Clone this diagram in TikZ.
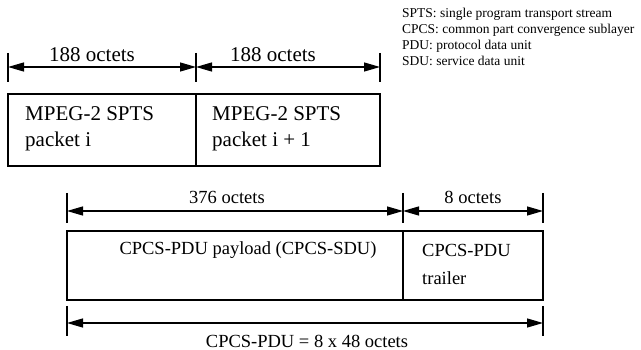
\documentclass[tikz,border=0pt]{standalone}
\usepackage{fontspec}
\setmainfont{Liberation Serif}
\usetikzlibrary{arrows.meta}
\begin{document}
\begin{tikzpicture}[x=1pt,y=-1pt,
  dim/.style={line width=1.3pt,{Triangle[length=16pt,width=9pt]}-{Triangle[length=16pt,width=9pt]}},
  tick/.style={line width=1.2pt},
  boxline/.style={line width=1.3pt},
  bigtxt/.style={font=\fontsize{21}{24}\selectfont,inner sep=0pt},
  smalltxt/.style={font=\fontsize{18.5}{22}\selectfont,inner sep=0pt},
  legtxt/.style={font=\fontsize{13.5}{16}\selectfont,inner sep=0pt,anchor=base west}]
\useasboundingbox (0,0) rectangle (641,350);
% legend
\node[legtxt] (l1) at (402,18) {SPTS: single program transport stream};
\node[legtxt] (l2) at (402,34) {CPCS: common part convergence sublayer};
\node[legtxt] (l3) at (402,50) {PDU: protocol data unit};
\node[legtxt] (l4) at (402,66) {SDU: service data unit};
% top ticks
\coordinate (ta) at (8,67);
\coordinate (tb) at (196,67);
\coordinate (tc) at (380,67);
\draw[tick] (8,53) -- (8,82);
\draw[tick] (196,53) -- (196,82);
\draw[tick] (380,53) -- (380,82);
\draw[dim] (ta) -- (tb);
\draw[dim] (tb) -- (tc);
\node[bigtxt] (t1) at (92,55) {188 octets};
\node[bigtxt] (t2) at (273,55) {188 octets};
% top boxes
\draw[boxline] (8,94) rectangle (196,166);
\draw[boxline] (196,94) rectangle (380,166);
\node[bigtxt,anchor=west,align=left] (p1) at (25,129) {MPEG-2 SPTS\\[2pt]packet i};
\node[bigtxt,anchor=west,align=left] (p2) at (212,129) {MPEG-2 SPTS\\[2pt]packet i + 1};
% bottom ticks
\coordinate (ba) at (67,211);
\coordinate (bb) at (403,211);
\coordinate (bc) at (543,211);
\draw[tick] (67,193) -- (67,223);
\draw[tick] (403,193) -- (403,223);
\draw[tick] (543,193) -- (543,223);
\draw[dim] (ba) -- (bb);
\draw[dim] (bb) -- (bc);
\node[smalltxt] (o1) at (227,197) {376 octets};
\node[smalltxt] (o2) at (473,197) {8 octets};
% bottom boxes
\draw[boxline] (67,231) rectangle (403,300);
\draw[boxline] (403,231) rectangle (543,300);
\node[smalltxt] (pay) at (248,250) {CPCS-PDU payload (CPCS-SDU)};
\node[smalltxt,anchor=west,align=left] (tr) at (422,264) {CPCS-PDU\\[6pt]trailer};
% total
\coordinate (za) at (67,323);
\coordinate (zb) at (543,323);
\draw[tick] (67,306) -- (67,336);
\draw[tick] (543,306) -- (543,336);
\draw[dim] (za) -- (zb);
\node[smalltxt] (tot) at (307,341) {CPCS-PDU = 8 x 48 octets};
\end{tikzpicture}
\end{document}
